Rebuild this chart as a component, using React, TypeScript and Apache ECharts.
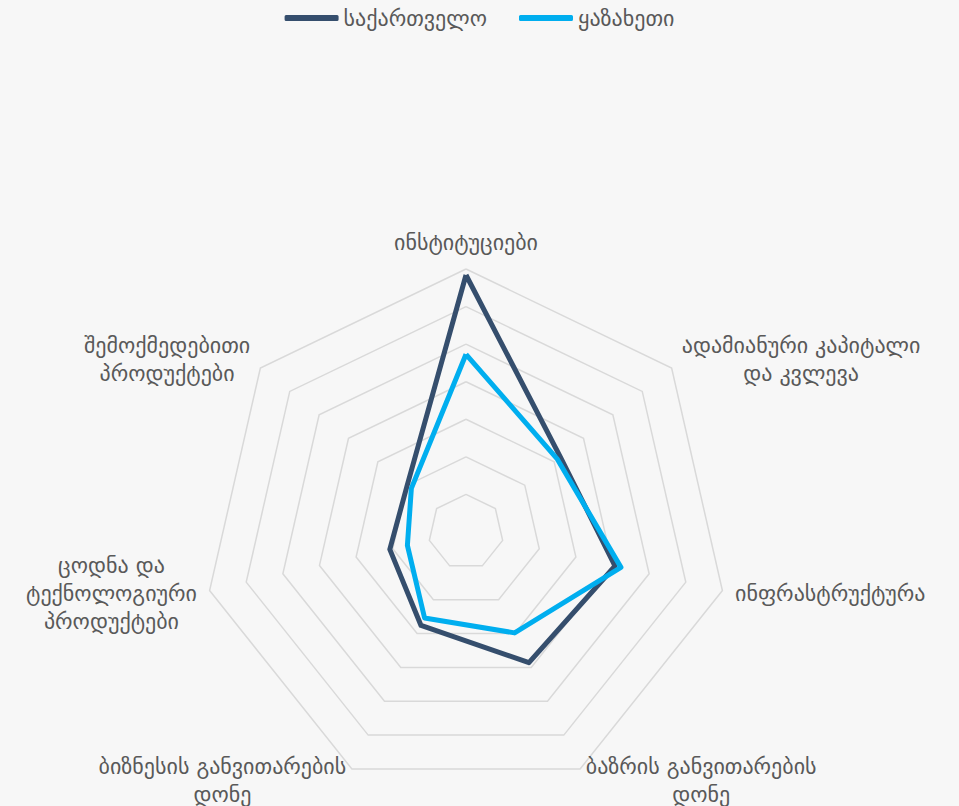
import React, { useEffect, useRef } from "react";
import * as echarts from "echarts";

// Indicators in clockwise order starting from the top
const indicators = [
  "ინსტიტუციები",
  "ადამიანური კაპიტალი\nდა კვლევა",
  "ინფრასტრუქტურა",
  "ბაზრის განვითარების\nდონე",
  "ბიზნესის განვითარების\nდონე",
  "ცოდნა და\nტექნოლოგიური\nპროდუქტები",
  "შემოქმედებითი\nპროდუქტები",
];
const seriesNames = ["საქართველო", "ყაზახეთი"];
const georgia = [68.4, 32.1, 40.7, 38.6, 27.6, 20.8, 20.0];
const kazakhstan = [47.3, 31.1, 42.3, 29.8, 25.4, 16.0, 18.6];
const axisMax = 70;

// ECharts lays radar indicators counter-clockwise; reorder to get clockwise
const order = [0, 6, 5, 4, 3, 2, 1];
const reorder = <T,>(arr: T[]) => order.map((i) => arr[i]);

export default function App() {
  const ref = useRef<HTMLDivElement>(null);
  useEffect(() => {
    if (!ref.current) return;
    const chart = echarts.init(ref.current, null, { renderer: "svg" });
    const textColor = "#595959";
    chart.setOption({
      animation: false,
      backgroundColor: "#f7f7f7",
      textStyle: { fontFamily: "DejaVu Sans, sans-serif" },
      legend: {
        top: 2,
        left: "center",
        data: seriesNames,
        icon: "roundRect",
        itemWidth: 54,
        itemHeight: 6,
        itemGap: 32,
        textStyle: { fontSize: 22, color: textColor },
      },
      radar: {
        center: [466, 532],
        radius: 263,
        startAngle: 90,
        splitNumber: 7,
        shape: "polygon",
        indicator: reorder(indicators).map((n) => ({ name: n, max: axisMax, min: 0 })),
        axisLine: { show: false },
        axisTick: { show: false },
        splitArea: { show: false },
        splitLine: { lineStyle: { color: "#d9d9d9", width: 1.5 } },
        nameGap: 13,
        axisName: {
          color: textColor,
          fontSize: 22,
          formatter: (name: string) =>
            name
              .split("\n")
              .map((l) => `{c|${l}}`)
              .join("\n"),
          rich: {
            c: { align: "center", fontSize: 22, color: textColor, lineHeight: 28 },
          },
        },
      },
      series: [
        {
          type: "radar",
          symbol: "none",
          data: [
            {
              name: seriesNames[0],
              value: reorder(georgia),
              lineStyle: { color: "#354e6d", width: 5 },
              itemStyle: { color: "#354e6d" },
            },
            {
              name: seriesNames[1],
              value: reorder(kazakhstan),
              lineStyle: { color: "#00aeef", width: 5 },
              itemStyle: { color: "#00aeef" },
            },
          ],
        },
      ],
    });
    return () => chart.dispose();
  }, []);
  return (
    <div
      ref={ref}
      style={{ position: "fixed", left: 0, top: 0, width: 959, height: 806 }}
    />
  );
}
